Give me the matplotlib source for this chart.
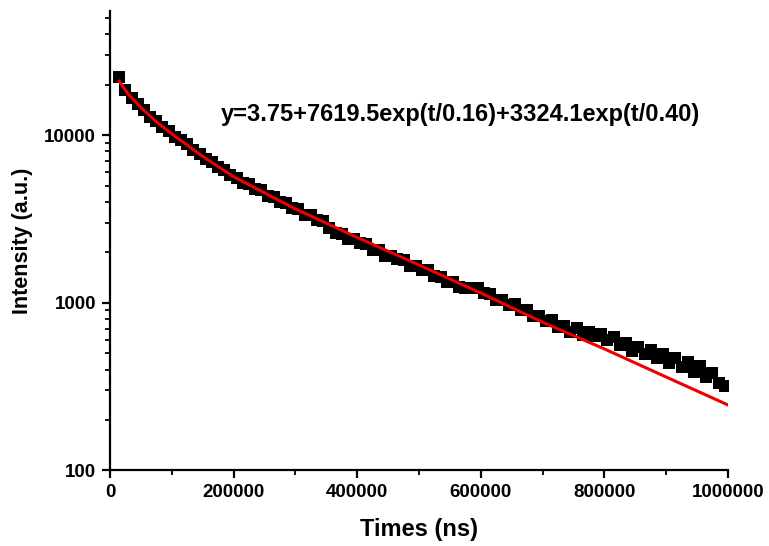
import matplotlib.pyplot as plt
from matplotlib.ticker import FuncFormatter, MultipleLocator, LogLocator

plt.rcParams['font.family'] = ['Liberation Sans', 'DejaVu Sans']
plt.rcParams['font.weight'] = 'bold'

# decay data (black squares), time in ns
time_ns = [15000, 25000, 35000, 45000, 55000, 65000, 75000, 85000, 95000, 105000,
           115000, 125000, 135000, 145000, 155000, 165000, 175000, 185000, 195000, 205000,
           215000, 225000, 235000, 245000, 255000, 265000, 275000, 285000, 295000, 305000,
           315000, 325000, 335000, 345000, 355000, 365000, 375000, 385000, 395000, 405000,
           415000, 425000, 435000, 445000, 455000, 465000, 475000, 485000, 495000, 505000,
           515000, 525000, 535000, 545000, 555000, 565000, 575000, 585000, 595000, 605000,
           615000, 625000, 635000, 645000, 655000, 665000, 675000, 685000, 695000, 705000,
           715000, 725000, 735000, 745000, 755000, 765000, 775000, 785000, 795000, 805000,
           815000, 825000, 835000, 845000, 855000, 865000, 875000, 885000, 895000, 905000,
           915000, 925000, 935000, 945000, 955000, 965000, 975000, 985000, 995000]
intensity = [22280, 18680, 16600, 15420, 14060, 12880, 12100, 11190, 10620, 9795,
             9311, 8811, 8128, 7745, 7211, 6934, 6472, 6180, 5754, 5559,
             5212, 5105, 4786, 4698, 4350, 4266, 3999, 3926, 3678, 3607,
             3361, 3323, 3122, 3058, 2809, 2615, 2585, 2407, 2413, 2259,
             2246, 2074, 2058, 1914, 1912, 1817, 1807, 1668, 1667, 1568,
             1560, 1438, 1422, 1326, 1329, 1245, 1225, 1218, 1221, 1137,
             1133, 1044, 1043, 966, 980, 906, 907, 829, 830, 780,
             788, 722, 729, 668, 703, 647, 672, 630, 655, 603,
             626, 560, 577, 519, 548, 494, 525, 466, 495, 439,
             471, 413, 446, 387, 418, 363, 384, 331, 318]

# fitted curve (red line)
fit_time = [15000, 30000, 50000, 75000, 100000, 150000, 200000, 300000,
            400000, 500000, 600000, 700000, 800000, 900000, 1000000]
fit_value = [20930, 17480, 14620, 12020, 10180, 7464, 5652, 3631,
             2455, 1682, 1144, 766, 531, 361, 246]

fit_label = 'y=3.75+7619.5exp(t/0.16)+3324.1exp(t/0.40)'

fig = plt.figure(figsize=(7.69, 5.46), dpi=100)
ax = fig.add_axes([0.1430, 0.1383, 0.8036, 0.8416])

ax.plot(time_ns, intensity, 's', color='black', markersize=8.5, markeredgewidth=0)
ax.plot(fit_time, fit_value, '-', color='#ee0000', linewidth=2.2)

ax.set_yscale('log')
ax.set_xlim(0, 1000000)
ax.set_ylim(100, 55000)

ax.xaxis.set_major_locator(MultipleLocator(200000))
ax.xaxis.set_minor_locator(MultipleLocator(100000))
ax.yaxis.set_major_locator(LogLocator(base=10))
ax.yaxis.set_minor_locator(LogLocator(base=10, subs=range(2, 10)))
ax.yaxis.set_major_formatter(FuncFormatter(lambda v, p: '%d' % v))
ax.yaxis.set_minor_formatter(FuncFormatter(lambda v, p: ''))
ax.xaxis.set_major_formatter(FuncFormatter(lambda v, p: '%d' % v))

for s in ['top', 'right']:
    ax.spines[s].set_visible(False)
for s in ['left', 'bottom']:
    ax.spines[s].set_linewidth(1.6)

ax.tick_params(which='major', direction='out', length=6, width=1.6, labelsize=13.5, pad=4)
ax.tick_params(which='minor', direction='out', length=3.5, width=1.3)

ax.set_xlabel('Times (ns)', fontsize=17, fontweight='bold', labelpad=12)
ax.set_ylabel('Intensity (a.u.)', fontsize=15.5, fontweight='bold', labelpad=8)

ax.text(0.1796, 0.774, fit_label, transform=ax.transAxes, fontsize=17, fontweight='bold',
        va='center', ha='left')

fig.savefig('out.png', dpi=100)
plt.close()
